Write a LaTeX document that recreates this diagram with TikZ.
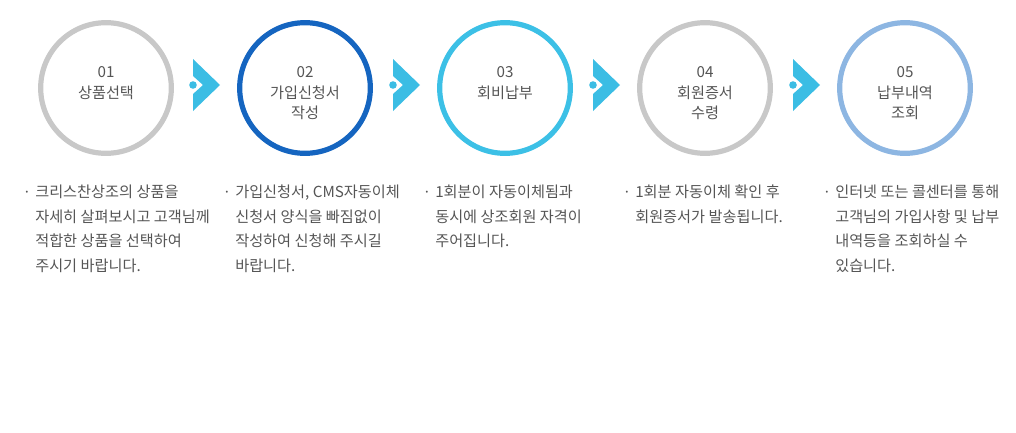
\documentclass[tikz,border=0pt]{standalone}
\usepackage{fontspec}
\setmainfont{Noto Sans CJK KR}
\definecolor{grycrc}{HTML}{C8C8C8}
\definecolor{dkblue}{HTML}{1565C0}
\definecolor{cyblue}{HTML}{3CC0E6}
\definecolor{ltblue}{HTML}{8DB6E2}
\definecolor{chvcol}{HTML}{3BBDE4}
\definecolor{txtgry}{HTML}{555555}

\tikzset{
  stepcircle/.style={circle,line width=3.9pt,minimum size=98pt,inner sep=0pt},
  steptext/.style={anchor=north,align=center,inner sep=0pt,text=txtgry,font=\fontsize{11.4}{14.6}\selectfont},
  bodytext/.style={anchor=north west,align=left,inner sep=0pt,text=txtgry,font=\fontsize{11.4}{18.5}\selectfont},
  bulletdot/.style={anchor=base,inner sep=0pt,text=txtgry,font=\fontsize{11}{12}\selectfont}
}

\begin{document}
\begin{tikzpicture}[x=0.75pt,y=-0.75pt]
  \useasboundingbox (0,0) rectangle (1016,432);
  % steps
  \node[stepcircle,draw=grycrc] (s1) at (106,88) {};
  \node[stepcircle,draw=dkblue] (s2) at (305,88) {};
  \node[stepcircle,draw=cyblue] (s3) at (505,88) {};
  \node[stepcircle,draw=grycrc] (s4) at (705,88) {};
  \node[stepcircle,draw=ltblue] (s5) at (905,88) {};
  \node[steptext] (l1) at (106,66) {01\\[1.5pt]상품선택};
  \node[steptext] (l2) at (305,66) {02\\[1.5pt]가입신청서\\작성};
  \node[steptext] (l3) at (505,66) {03\\[1.5pt]회비납부};
  \node[steptext] (l4) at (705,66) {04\\[1.5pt]회원증서\\수령};
  \node[steptext] (l5) at (905,66) {05\\[1.5pt]납부내역\\조회};
  % chevrons
  \fill[chvcol] (193,59)--(220,85)--(193,111)--(193,94)--(203,85)--(193,76)--cycle;
  \fill[chvcol] (193,85) circle (3.8);
  \fill[chvcol] (393,59)--(420,85)--(393,111)--(393,94)--(403,85)--(393,76)--cycle;
  \fill[chvcol] (393,85) circle (3.8);
  \fill[chvcol] (593,59)--(620,85)--(593,111)--(593,94)--(603,85)--(593,76)--cycle;
  \fill[chvcol] (593,85) circle (3.8);
  \fill[chvcol] (793,59)--(820,85)--(793,111)--(793,94)--(803,85)--(793,76)--cycle;
  \fill[chvcol] (793,85) circle (3.8);
  % descriptions
  \node[bulletdot] (b1) at (27,197) {·};
  \node[bodytext] (t1) at (35,184.5) {크리스찬상조의 상품을\\자세히 살펴보시고 고객님께\\적합한 상품을 선택하여\\주시기 바랍니다.};
  \node[bulletdot] (b2) at (227,197) {·};
  \node[bodytext] (t2) at (235,184.5) {가입신청서, CMS자동이체\\신청서 양식을 빠짐없이\\작성하여 신청해 주시길\\바랍니다.};
  \node[bulletdot] (b3) at (427,197) {·};
  \node[bodytext] (t3) at (435,184.5) {1회분이 자동이체됨과\\동시에 상조회원 자격이\\주어집니다.};
  \node[bulletdot] (b4) at (627,197) {·};
  \node[bodytext] (t4) at (635,184.5) {1회분 자동이체 확인 후\\회원증서가 발송됩니다.};
  \node[bulletdot] (b5) at (827,197) {·};
  \node[bodytext] (t5) at (835,184.5) {인터넷 또는 콜센터를 통해\\고객님의 가입사항 및 납부\\내역등을 조회하실 수\\있습니다.};
\end{tikzpicture}
\end{document}
